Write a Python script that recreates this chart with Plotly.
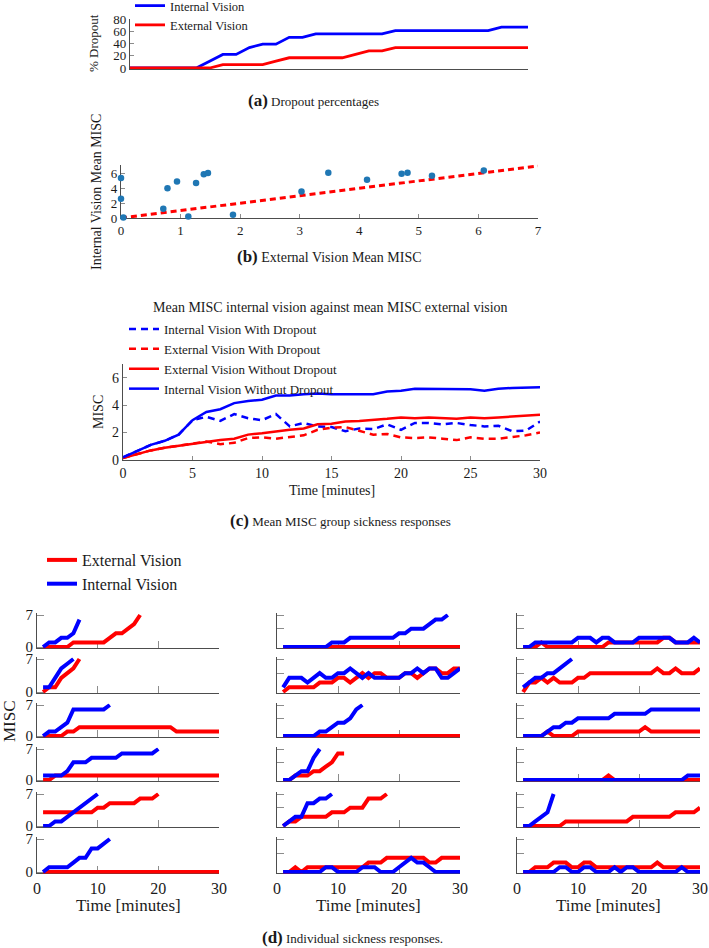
import plotly.graph_objects as go

W, H = 709, 948
FONT = "Liberation Serif, Times New Roman, serif"
BLUE = "#0000ff"
RED = "#ff0000"
DOTC = "#1f77b4"
AXC = "#4d4d4d"
TKC = "#8c8c8c"
TXT = "#1a1a1a"

# ---------------- (a) Dropout percentages ----------------
t_a = list(range(0, 31))
drop_internal = [0, 0, 0, 0, 0, 0, 11.1, 22.2, 22.2, 33.3, 38.9, 38.9, 50, 50,
                 55.6, 55.6, 55.6, 55.6, 55.6, 55.6, 61.1, 61.1, 61.1, 61.1, 61.1,
                 61.1, 61.1, 61.1, 66.7, 66.7, 66.7]
drop_external = [0, 0, 0, 0, 0, 0, 0, 5.6, 5.6, 5.6, 5.6, 11.1, 16.7, 16.7, 16.7,
                 16.7, 16.7, 22.2, 27.8, 27.8, 33.3, 33.3, 33.3, 33.3, 33.3, 33.3,
                 33.3, 33.3, 33.3, 33.3, 33.3]
yticks_a = [0, 20, 40, 60, 80]

# ---------------- (b) Mean MISC scatter ----------------
misc_external = [0, 0, 0.04, 0.71, 0.78, 0.94, 1.13, 1.26, 1.39, 1.46, 1.88, 3.03,
                 3.48, 4.13, 4.71, 4.81, 5.22, 6.09]
misc_internal = [5.4, 2.6, 0.05, 1.25, 4.0, 4.9, 0.2, 4.7, 5.9, 6.05, 0.45, 3.55,
                 6.1, 5.15, 5.95, 6.1, 5.7, 6.4]
identity_line = [0, 7]
xticks_b = [0, 1, 2, 3, 4, 5, 6, 7]
yticks_b = [0, 2, 4, 6]

# ---------------- (c) Mean MISC group responses ----------------
t_c = list(range(0, 31))
iv_with_dropout = [0.2, 0.65, 1.1, 1.4, 1.85, 2.9, 3.15, 2.85, 3.35, 3.05, 2.9, 3.35,
                   2.45, 2.7, 2.45, 2.4, 2.1, 2.3, 2.25, 2.6, 2.2, 2.7, 2.7, 2.6,
                   2.7, 2.55, 2.45, 2.5, 2.1, 2.15, 2.8]
ev_with_dropout = [0.15, 0.45, 0.7, 0.9, 1.05, 1.2, 1.35, 1.15, 1.25, 1.6, 1.65, 1.55,
                   1.7, 1.8, 2.2, 2.35, 2.4, 2.1, 1.85, 1.9, 1.65, 1.6, 1.65, 1.55,
                   1.45, 1.65, 1.55, 1.55, 1.65, 1.8, 2.0]
ev_without_dropout = [0.15, 0.45, 0.7, 0.9, 1.05, 1.2, 1.35, 1.45, 1.55, 1.85, 1.95,
                      2.1, 2.2, 2.3, 2.6, 2.65, 2.8, 2.85, 2.9, 3.0, 3.1, 3.05, 3.1,
                      3.05, 3.0, 3.1, 3.05, 3.1, 3.15, 3.25, 3.3]
iv_without_dropout = [0.2, 0.65, 1.1, 1.4, 1.85, 2.9, 3.5, 3.7, 4.15, 4.3, 4.4, 4.7,
                      4.7, 4.8, 4.85, 4.8, 4.8, 4.75, 4.8, 5.0, 5.05, 5.2, 5.2, 5.15,
                      5.2, 5.15, 5.05, 5.2, 5.25, 5.25, 5.3]
xticks_c = [0, 5, 10, 15, 20, 25, 30]
yticks_c = [0, 2, 4, 6]

# ---------------- (d) Individual responses (minute 1..30) ----------------
t_d = list(range(1, 31))
xticks_d = [0, 10, 20, 30]

# column 1
int_r1c1 = [0, 1, 1, 2, 2, 3, 6]
ext_r1c1 = [0, 0, 0, 0, 0, 1, 1, 1, 1, 1, 1, 2, 3, 3, 4, 5, 7]
int_r2c1 = [1, 1, 3, 5, 6, 7]
ext_r2c1 = [0, 1, 1, 3, 4, 5, 7]
int_r3c1 = [0, 1, 1, 2, 3, 6, 6, 6, 6, 6, 6, 7]
ext_r3c1 = [0, 0, 0, 0, 1, 1, 2, 2, 2, 2, 2, 2, 2, 2, 2, 2, 2, 2, 2, 2, 2, 2, 1, 1,
            1, 1, 1, 1, 1, 1]
int_r4c1 = [1, 1, 1, 1, 2, 4, 4, 4, 5, 5, 5, 5, 5, 6, 6, 6, 6, 6, 6, 7]
ext_r4c1 = [0, 0, 1, 1, 1, 1, 1, 1, 1, 1, 1, 1, 1, 1, 1, 1, 1, 1, 1, 1, 1, 1, 1, 1,
            1, 1, 1, 1, 1, 1]
int_r5c1 = [0, 0, 1, 1, 2, 3, 4, 5, 6, 7]
ext_r5c1 = [3, 3, 3, 3, 3, 3, 3, 3, 3, 4, 4, 5, 5, 5, 5, 5, 6, 6, 6, 7]
int_r6c1 = [0, 1, 1, 1, 1, 2, 3, 3, 5, 5, 6, 7]
ext_r6c1 = [0, 0, 0, 0, 0, 0, 0, 0, 0, 0, 0, 0, 0, 0, 0, 0, 0, 0, 0, 0, 0, 0, 0, 0,
            0, 0, 0, 0, 0, 0]

# column 2
int_r1c2 = [0, 0, 0, 0, 0, 0, 0, 0, 1, 1, 1, 2, 2, 2, 2, 2, 2, 2, 2, 3, 3, 4, 4, 4,
            5, 6, 6, 7]
ext_r1c2 = [0, 0, 0, 0, 0, 0, 0, 0, 0, 0, 0, 0, 0, 0, 0, 0, 0, 0, 0, 0, 0, 0, 0, 0,
            0, 0, 0, 0, 0, 0]
int_r2c2 = [1, 3, 3, 3, 2, 3, 4, 3, 3, 4, 4, 5, 4, 3, 4, 3, 3, 3, 3, 3, 4, 4, 5, 4,
            5, 5, 3, 3, 4, 5]
ext_r2c2 = [0, 1, 1, 1, 1, 1, 2, 2, 2, 3, 3, 2, 3, 4, 3, 4, 4, 3, 3, 3, 4, 4, 3, 4,
            5, 5, 4, 4, 5, 5]
int_r3c2 = [0, 0, 0, 0, 0, 0, 1, 1, 2, 3, 3, 4, 6, 7]
ext_r3c2 = [0, 0, 0, 0, 0, 0, 0, 0, 0, 0, 0, 0, 0, 0, 0, 0, 0, 0, 0, 0, 0, 0, 0, 0,
            0, 0, 0, 0, 0, 0]
int_r4c2 = [0, 0, 1, 2, 2, 5, 7]
ext_r4c2 = [0, 0, 1, 1, 1, 2, 2, 3, 4, 6, 6]
int_r5c2 = [0, 1, 2, 2, 5, 5, 6, 6, 7]
ext_r5c2 = [0, 1, 1, 2, 2, 2, 2, 2, 3, 3, 3, 4, 4, 4, 6, 6, 6, 7]
int_r6c2 = [0, 0, 0, 0, 0, 0, 0, 1, 1, 0, 0, 0, 0, 1, 1, 1, 0, 0, 0, 1, 2, 3, 2, 2,
            1, 0, 0, 0, 0, 0]
ext_r6c2 = [0, 0, 1, 0, 1, 1, 1, 1, 1, 1, 1, 1, 1, 1, 2, 2, 2, 3, 3, 3, 3, 3, 3, 3,
            2, 2, 3, 3, 3, 3]

# column 3
int_r1c3 = [0, 0, 1, 1, 1, 1, 1, 1, 1, 2, 2, 2, 1, 2, 2, 1, 1, 1, 1, 2, 2, 2, 2, 2,
            2, 1, 1, 1, 2, 1]
ext_r1c3 = [0, 0, 0, 1, 0, 0, 0, 0, 0, 0, 0, 0, 0, 0, 1, 1, 1, 1, 1, 1, 1, 1, 1, 2,
            2, 1, 1, 1, 1, 1]
int_r2c3 = [1, 2, 3, 3, 4, 4, 5, 6, 7]
ext_r2c3 = [0, 2, 2, 3, 2, 3, 2, 2, 2, 3, 3, 4, 4, 4, 4, 4, 4, 4, 4, 4, 4, 4, 5, 4,
            4, 5, 4, 4, 4, 5]
int_r3c3 = [0, 0, 0, 0, 1, 2, 2, 3, 3, 4, 4, 4, 4, 4, 4, 5, 5, 5, 5, 5, 5, 6, 6, 6,
            6, 6, 6, 6, 6, 6]
ext_r3c3 = [0, 0, 0, 0, 1, 0, 0, 0, 0, 1, 1, 1, 1, 1, 1, 1, 1, 1, 1, 1, 2, 1, 1, 1,
            1, 1, 1, 1, 1, 1]
int_r4c3 = [0, 0, 0, 0, 0, 0, 0, 0, 0, 0, 0, 0, 0, 0, 0, 0, 0, 0, 0, 0, 0, 0, 0, 0,
            0, 0, 0, 1, 1, 1]
ext_r4c3 = [0, 0, 0, 0, 0, 0, 0, 0, 0, 0, 0, 0, 0, 0, 1, 0, 0, 0, 0, 0, 0, 0, 0, 0,
            0, 0, 0, 0, 0, 0]
int_r5c3 = [0, 0, 1, 2, 3, 7]
ext_r5c3 = [0, 0, 0, 0, 0, 0, 0, 1, 1, 1, 1, 1, 1, 1, 1, 1, 1, 1, 2, 2, 2, 2, 2, 2,
            2, 3, 3, 3, 3, 4]
int_r6c3 = [0, 0, 0, 0, 0, 0, 1, 1, 0, 0, 1, 1, 0, 0, 0, 1, 0, 1, 1, 0, 0, 0, 0, 0,
            0, 0, 1, 0, 0, 0]
ext_r6c3 = [0, 0, 1, 1, 1, 2, 2, 2, 1, 1, 2, 2, 1, 1, 1, 1, 1, 1, 1, 1, 1, 1, 2, 1,
            1, 1, 1, 1, 1, 1]

grid_int = [[int_r1c1, int_r1c2, int_r1c3], [int_r2c1, int_r2c2, int_r2c3],
            [int_r3c1, int_r3c2, int_r3c3], [int_r4c1, int_r4c2, int_r4c3],
            [int_r5c1, int_r5c2, int_r5c3], [int_r6c1, int_r6c2, int_r6c3]]
grid_ext = [[ext_r1c1, ext_r1c2, ext_r1c3], [ext_r2c1, ext_r2c2, ext_r2c3],
            [ext_r3c1, ext_r3c2, ext_r3c3], [ext_r4c1, ext_r4c2, ext_r4c3],
            [ext_r5c1, ext_r5c2, ext_r5c3], [ext_r6c1, ext_r6c2, ext_r6c3]]


# ---------------- helpers ----------------
def dx(l, r):
    return [l / W, r / W]


def dy(top, bot):
    return [1 - bot / H, 1 - top / H]


def ydom_ext(top, bot, lo, hi, rlo, rhi):
    """domain so that value lo sits at px bot and hi at px top, with range [rlo, rhi]"""
    k = (bot - top) / (hi - lo)
    return dy(top - (rhi - hi) * k, bot + (lo - rlo) * k)


def axis(size, **kw):
    a = dict(showline=True, linecolor=AXC, linewidth=1.2, ticks="inside", ticklen=4,
             tickcolor=TKC, tickwidth=1, showgrid=False, zeroline=False,
             tickfont=dict(family=FONT, size=size, color=TXT), fixedrange=True,
             layer="below traces", automargin=False)
    a.update(kw)
    return a


def ann(text, x, y, size, angle=0, xanchor="center"):
    return dict(text=text, x=x / W, y=1 - y / H, xref="paper", yref="paper",
                showarrow=False, textangle=angle, xanchor=xanchor, yanchor="middle",
                font=dict(family=FONT, size=size, color=TXT))


fig = go.Figure()
layout = {}

# ---------------- (a) ----------------
fig.add_trace(go.Scatter(x=t_a, y=drop_internal, mode="lines", name="Internal Vision",
                         line=dict(color=BLUE, width=2.8), xaxis="x", yaxis="y",
                         legend="legend"))
fig.add_trace(go.Scatter(x=t_a, y=drop_external, mode="lines", name="External Vision",
                         line=dict(color=RED, width=2.8), xaxis="x", yaxis="y",
                         legend="legend"))
layout["xaxis"] = axis(13, domain=dx(130, 528), range=[0, 30], anchor="y",
                       tickvals=[30], showticklabels=False)
layout["yaxis"] = axis(13, domain=ydom_ext(19, 68, 0, 80, -1.5, 80), range=[-1.5, 80],
                       anchor="x", tickvals=yticks_a)

# ---------------- (b) ----------------
fig.add_trace(go.Scatter(x=identity_line, y=identity_line, mode="lines", showlegend=False,
                         line=dict(color=RED, width=3, dash="6px,4px"),
                         xaxis="x2", yaxis="y2"))
fig.add_trace(go.Scatter(x=misc_external, y=misc_internal, mode="markers",
                         showlegend=False, marker=dict(color=DOTC, size=6.5),
                         cliponaxis=False, xaxis="x2", yaxis="y2"))
layout["xaxis2"] = axis(13, domain=dx(121, 538), range=[0, 7], anchor="y2",
                        tickvals=xticks_b)
layout["yaxis2"] = axis(13, domain=ydom_ext(166, 218, 0, 7, 0, 7.2), range=[0, 7.2],
                        anchor="x2", tickvals=yticks_b)

# ---------------- (c) ----------------
c_series = [
    (iv_with_dropout, "Internal Vision With Dropout", BLUE, "7px,5px"),
    (ev_with_dropout, "External Vision With Dropout", RED, "7px,5px"),
    (ev_without_dropout, "External Vision Without Dropout", RED, "solid"),
    (iv_without_dropout, "Internal Vision Without Dropout", BLUE, "solid"),
]
for ys, nm, col, ds in c_series:
    fig.add_trace(go.Scatter(x=t_c, y=ys, mode="lines", name=nm,
                             line=dict(color=col, width=2.5, dash=ds),
                             xaxis="x3", yaxis="y3", legend="legend2"))
layout["xaxis3"] = axis(14, domain=dx(123, 540), range=[0, 30], anchor="y3",
                        tickvals=xticks_c)
layout["yaxis3"] = axis(14, domain=dy(364, 460), range=[0, 7], anchor="x3",
                        tickvals=yticks_c)

# ---------------- (d) ----------------
rows_px = [(615, 647), (659, 692), (705, 736), (749, 780), (794, 826), (839, 872)]
cols_px = [(37, 219), (277, 460), (517, 700)]
n = 4
for r, (top, bot) in enumerate(rows_px):
    for c, (lft, rgt) in enumerate(cols_px):
        xa, ya = "x%d" % n, "y%d" % n
        first = (r == 0 and c == 0)
        e = grid_ext[r][c]
        i = grid_int[r][c]
        fig.add_trace(go.Scatter(x=t_d[:len(e)], y=e, mode="lines", name="External Vision",
                                 line=dict(color=RED, width=4), showlegend=first,
                                 legend="legend3", xaxis=xa, yaxis=ya))
        fig.add_trace(go.Scatter(x=t_d[:len(i)], y=i, mode="lines", name="Internal Vision",
                                 line=dict(color=BLUE, width=4), showlegend=first,
                                 legend="legend3", xaxis=xa, yaxis=ya))
        layout["xaxis%d" % n] = axis(16, domain=dx(lft, rgt), range=[0, 30], anchor=ya,
                                     tickvals=xticks_d, ticklen=7,
                                     showticklabels=(r == len(rows_px) - 1))
        if c == 0:
            ykw = dict(tickvals=[0, 7], showticklabels=True)
        else:
            ykw = dict(tickvals=[4, 7], showticklabels=False)
        layout["yaxis%d" % n] = axis(15, domain=ydom_ext(top, bot, 0, 7, -0.3, 7.35),
                                     range=[-0.3, 7.35], anchor=xa, ticklen=7, **ykw)
        n += 1

# ---------------- legends ----------------
layout["legend"] = dict(x=130 / W, y=1 + 9 / H, xanchor="left", yanchor="top",
                        bgcolor="rgba(0,0,0,0)", borderwidth=0,
                        font=dict(family=FONT, size=12.5, color=TXT))
layout["legend2"] = dict(x=124 / W, y=1 - 314 / H, xanchor="left", yanchor="top",
                         bgcolor="rgba(0,0,0,0)", borderwidth=0,
                         font=dict(family=FONT, size=13, color=TXT))
layout["legend3"] = dict(x=42 / W, y=1 - 543 / H, xanchor="left", yanchor="top",
                         bgcolor="rgba(0,0,0,0)", borderwidth=0,
                         font=dict(family=FONT, size=16, color=TXT))

# ---------------- text ----------------
annotations = [
    ann("% Dropout", 94, 43, 13, -90),
    ann("<b><span style='font-size:17px'>(a)</span></b> Dropout percentages", 313, 101, 13),
    ann("Internal Vision Mean MISC", 97, 192, 14, -90),
    ann("<b><span style='font-size:17px'>(b)</span></b> External Vision Mean MISC", 329, 256, 14),
    ann("Mean MISC internal vision against mean MISC external vision", 330, 307, 14),
    ann("MISC", 98, 412, 14, -90),
    ann("Time [minutes]", 332, 490, 14),
    ann("<b><span style='font-size:17px'>(c)</span></b> Mean MISC group sickness responses", 340, 520, 13),
    ann("MISC", 9, 721, 17, -90),
    ann("Time [minutes]", 128, 905, 17),
    ann("Time [minutes]", 368, 905, 17),
    ann("Time [minutes]", 608, 905, 17),
    ann("<b><span style='font-size:17px'>(d)</span></b> Individual sickness responses.", 352, 937, 13),
]

fig.update_layout(
    template="none",
    width=W, height=H, margin=dict(l=0, r=0, t=0, b=0, pad=0, autoexpand=False),
    autosize=False, paper_bgcolor="white", plot_bgcolor="white",
    font=dict(family=FONT, color=TXT), annotations=annotations, **layout)

fig.write_html(
    "out.html",
    config={"displayModeBar": False, "responsive": False},
    post_script="document.body.style.margin='0px';document.body.style.overflow='hidden';",
)
